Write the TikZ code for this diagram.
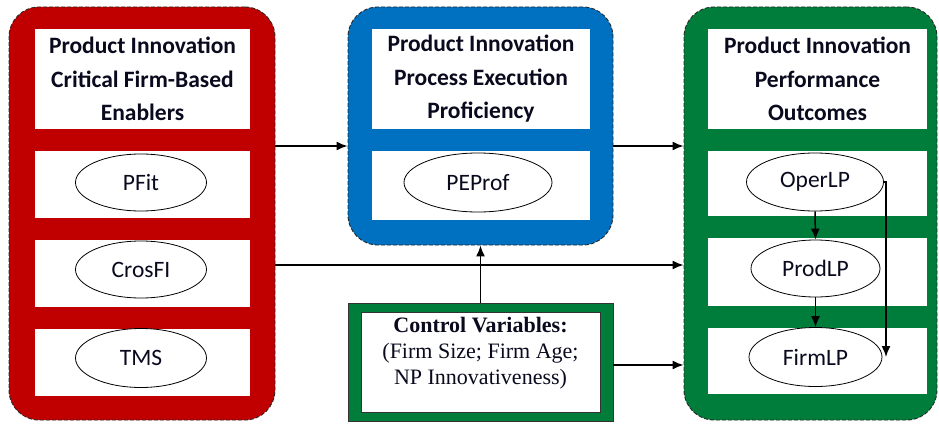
\documentclass[tikz,border=0pt]{standalone}
\usepackage{fontspec}
\setmainfont{Carlito}
\newfontfamily\tnr{Liberation Serif}
\usetikzlibrary{arrows.meta,shapes.geometric}
\definecolor{pred}{RGB}{192,0,0}
\definecolor{pblue}{RGB}{0,112,192}
\definecolor{pgreen}{RGB}{0,125,58}
\definecolor{dashc}{RGB}{40,40,40}
\definecolor{txt}{RGB}{10,10,30}
\begin{document}
\begin{tikzpicture}[x=1pt,y=-1pt,
  panel/.style={rectangle, rounded corners=30pt, draw=dashc, dash pattern=on 4pt off 2pt, line width=0.9pt, inner sep=0pt},
  wbox/.style={rectangle, fill=white, inner sep=0pt},
  ttl/.style={wbox, align=center, text=txt, font=\fontsize{23.5}{33.5}\selectfont\bfseries},
  var/.style={ellipse, draw=black, line width=0.8pt, fill=white, inner sep=0pt, text=txt, font=\fontsize{23.5}{26}\selectfont},
  arr/.style={-{Latex[length=11pt,width=9pt]}, line width=1.5pt, black}
]
\useasboundingbox (0,0) rectangle (939,425);
% panels
\node[panel, fill=pred, minimum width=266pt, minimum height=413pt] (L) at (142,213.5) {};
\node[panel, fill=pblue, minimum width=265pt, minimum height=238pt] (M) at (480.5,126) {};
\node[panel, fill=pgreen, minimum width=253pt, minimum height=413pt] (R) at (810.5,213.5) {};
% left
\node[ttl, minimum width=215pt, minimum height=100pt] (LT) at (142.5,79) {Product Innovation\\Critical Firm-Based\\Enablers};
\node[wbox, minimum width=215pt, minimum height=67pt] (LB1) at (142.5,184.5) {};
\node[wbox, minimum width=215pt, minimum height=67pt] (LB2) at (142.5,273.5) {};
\node[wbox, minimum width=215pt, minimum height=67pt] (LB3) at (142.5,362.5) {};
\node[var, minimum width=131pt, minimum height=57pt] (PFit) at (141,182.5) {PFit};
\node[var, minimum width=131pt, minimum height=57pt] (CrosFI) at (141,269.5) {CrosFI};
\node[var, minimum width=131pt, minimum height=59pt] (TMS) at (141,358) {TMS};
% middle
\node[ttl, minimum width=218pt, minimum height=100pt] (MT) at (481,79) {Product Innovation\\Process Execution\\Proficiency};
\node[wbox, minimum width=218pt, minimum height=69pt] (MB) at (481,185.5) {};
\node[var, minimum width=148pt, minimum height=59pt] (PEProf) at (478,182.5) {PEProf};
% right
\node[ttl, minimum width=219pt, minimum height=100pt] (RT) at (817.5,79) {Product Innovation\\Performance\\Outcomes};
\node[wbox, minimum width=219pt, minimum height=65pt] (RB1) at (817.5,183.5) {};
\node[wbox, minimum width=219pt, minimum height=68pt] (RB2) at (817.5,272) {};
\node[wbox, minimum width=219pt, minimum height=66pt] (RB3) at (817.5,361) {};
\node[var, minimum width=137pt, minimum height=58pt] (OperLP) at (815,182) {OperLP};
\node[var, minimum width=129pt, minimum height=57pt] (ProdLP) at (815.5,268.5) {ProdLP};
\node[var, minimum width=133pt, minimum height=59pt] (FirmLP) at (815.5,357) {FirmLP};
% control
\node[rectangle, draw=black!80, line width=0.8pt, fill=pgreen, minimum width=265pt, minimum height=118pt, inner sep=0pt] (C) at (480.5,362) {};
\node[rectangle, draw=black!80, line width=0.5pt, fill=white, minimum width=239pt, minimum height=100pt, inner sep=0pt] (Cin) at (480.5,362) {};
\node[align=center, text=txt, font=\tnr\fontsize{22}{26}\selectfont, inner sep=0pt] (CT) at (480.5,353) {\textbf{Control Variables:}\\(Firm Size; Firm Age;\\NP Innovativeness)};
% connectors
\coordinate (y1) at (0,146);
\coordinate (y2) at (0,265);
\coordinate (y4) at (0,365);
\coordinate (kx) at (886,0);
\draw[arr] (L.east |- y1) -- (M.west |- y1);
\draw[arr] (M.east |- y1) -- (R.west |- y1);
\draw[arr] (L.east |- y2) -- (R.west |- y2);
\draw[arr] (C.east |- y4) -- (R.west |- y4);
\draw[arr] (C.north) -- (M.south);
\draw[arr] (OperLP.south) -- (ProdLP.north);
\draw[arr] (ProdLP.south) -- (FirmLP.north);
\draw[arr] (OperLP.east) -- (OperLP.east -| kx) -- (FirmLP.east -| kx);
\end{tikzpicture}
\end{document}
